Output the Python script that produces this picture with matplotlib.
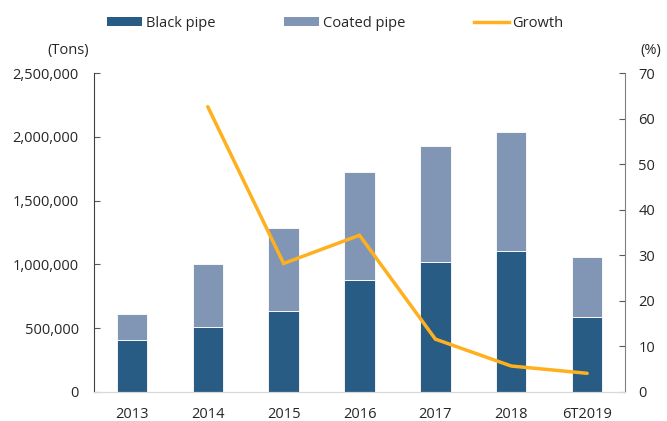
import matplotlib
matplotlib.use("Agg")
import matplotlib.pyplot as plt
from matplotlib.ticker import FuncFormatter
from matplotlib.lines import Line2D
from matplotlib.patches import Patch

plt.rcParams['font.family'] = ['Open Sans', 'DejaVu Sans']

years = ["2013", "2014", "2015", "2016", "2017", "2018", "6T2019"]
black_pipe = [407000, 509000, 635000, 878000, 1021000, 1105000, 588000]
coated_pipe = [204000, 491000, 648000, 846000, 907000, 933000, 467000]
growth = [None, 62.6, 28.2, 34.4, 11.6, 5.7, 4.1]

c_black = "#285C85"
c_coated = "#8096B4"
c_growth = "#FFB01E"
c_text = "#262626"
fs = 10.5

fig = plt.figure(figsize=(6.67, 4.21), dpi=100)
ax = fig.add_axes([0.1409, 0.0689, 0.7962, 0.7577])
ax2 = ax.twinx()

x = list(range(len(years)))
ax.bar(x, black_pipe, width=0.4, color=c_black, edgecolor="white", linewidth=0.6, zorder=2)
ax.bar(x, coated_pipe, width=0.4, bottom=black_pipe, color=c_coated,
       edgecolor="white", linewidth=0.6, zorder=2)

gx = [i for i, g in zip(x, growth) if g is not None]
gy = [g for g in growth if g is not None]
ax2.plot(gx, gy, color=c_growth, linewidth=2.5, solid_capstyle="round", solid_joinstyle="miter")

ax.set_xlim(-0.5, len(years) - 0.5)
ax.set_ylim(0, 2500000)
ax.set_yticks(range(0, 2500001, 500000))
ax.yaxis.set_major_formatter(FuncFormatter(lambda v, p: f"{int(v):,}"))
ax2.set_ylim(0, 70)
ax2.set_yticks(range(0, 71, 10))

ax.set_xticks(x)
ax.set_xticklabels(years)

for a in (ax, ax2):
    a.spines['top'].set_visible(False)
    a.spines['bottom'].set_color("#D9D9D9")
    a.spines['left'].set_color("#404040")
    a.spines['right'].set_color("#808080")
    a.tick_params(axis='y', direction='in', length=4, width=0.8, colors="#595959",
                  labelcolor=c_text, labelsize=fs)
    a.tick_params(axis='x', length=0, labelsize=fs, labelcolor=c_text, pad=11)
ax.spines['right'].set_visible(False)
ax2.spines['left'].set_visible(False)
ax.tick_params(axis='y', pad=11)
ax2.tick_params(axis='y', pad=9.5)

fig.text(0.1327, 0.881, "(Tons)", ha="right", va="center", fontsize=fs, color=c_text)
fig.text(0.992, 0.881, "(%)", ha="right", va="center", fontsize=fs, color=c_text)

handles = [Patch(facecolor=c_black, edgecolor="none"),
           Patch(facecolor=c_coated, edgecolor="none"),
           Line2D([0], [0], color=c_growth, linewidth=2.5)]
labels = ["Black pipe", "Coated pipe", "Growth"]
fig.legend(handles, labels, loc="center left", bbox_to_anchor=(0.16, 0.945), ncol=3,
           frameon=False, fontsize=fs, handlelength=2.4, handleheight=0.55,
           handletextpad=0.27, columnspacing=4.7, borderpad=0, borderaxespad=0,
           labelcolor=c_text)

fig.savefig("out.png", dpi=100)
